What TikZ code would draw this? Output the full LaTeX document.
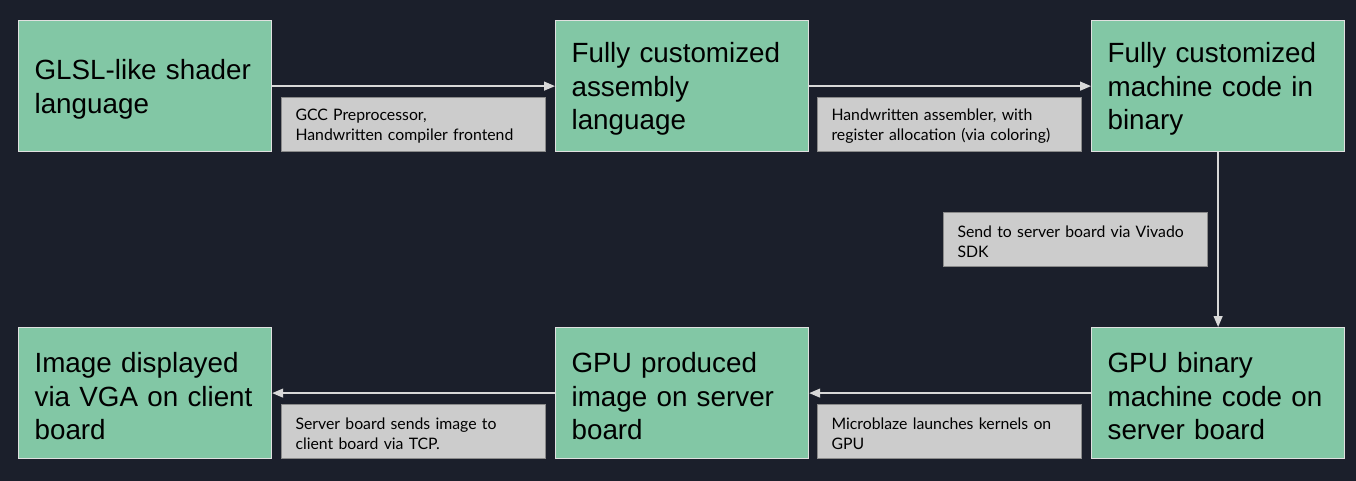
\documentclass[tikz,border=0pt]{standalone}
\usepackage{fontspec}
\setmainfont{Liberation Sans}
\newfontfamily\lato{Lato}
\usetikzlibrary{arrows.meta}
\definecolor{bg}{HTML}{1B1F2B}
\definecolor{boxfill}{HTML}{82C7A5}
\definecolor{boxline}{HTML}{E0E0E0}
\definecolor{lblfill}{HTML}{CCCCCC}
\definecolor{lblline}{HTML}{8A8A8A}
\definecolor{arr}{HTML}{D8D8D8}
\begin{document}
\begin{tikzpicture}[x=1pt,y=-1pt,
 stage/.style={draw=boxline, line width=1.2pt, fill=boxfill, minimum width=253pt, minimum height=131pt, text width=221pt, inner xsep=16pt, align=left, font=\fontsize{27.8}{33.5}\selectfont, anchor=north west, text=black, execute at begin node={\rule{0pt}{26.3pt}}},
 lbl/.style={draw=lblline, line width=1pt, fill=lblfill, minimum width=264pt, minimum height=54pt, text width=236pt, inner xsep=14pt, align=left, font=\lato\fontsize{15.8}{20}\selectfont, anchor=north west, text=black, execute at begin node={\rule{0pt}{15.4pt}}},
 flow/.style={draw=arr, line width=1.3pt, -{Triangle[length=11pt,width=9pt]}}]
\fill[bg] (0,0) rectangle (1356,481);
\useasboundingbox (0,0) rectangle (1356,481);
\node[stage] (a) at (18,20) {GLSL-like shader\\language};
\node[stage] (b) at (555,20) {Fully customized\\assembly\\language};
\node[stage] (c) at (1091,20) {Fully customized\\machine code in\\binary};
\node[stage] (d) at (18,327) {Image displayed\\via VGA on client\\board};
\node[stage] (e) at (555,327) {GPU produced\\image on server\\board};
\node[stage] (f) at (1091,327) {GPU binary\\machine code on\\server board};
\draw[flow] (a) -- (b);
\draw[flow] (b) -- (c);
\draw[flow] (c) -- (f);
\draw[flow] (f) -- (e);
\draw[flow] (e) -- (d);
\node[lbl] (l1) at (281,97) {GCC Preprocessor,\\Handwritten compiler frontend};
\node[lbl] (l2) at (817,97) {Handwritten assembler, with\\register allocation (via coloring)};
\node[lbl] (l3) at (943,212) {Send to server board via Vivado\\SDK};
\node[lbl] (l4) at (281,404) {Server board sends image to\\client board via TCP.};
\node[lbl] (l5) at (817,404) {Microblaze launches kernels on\\GPU};
\end{tikzpicture}
\end{document}
